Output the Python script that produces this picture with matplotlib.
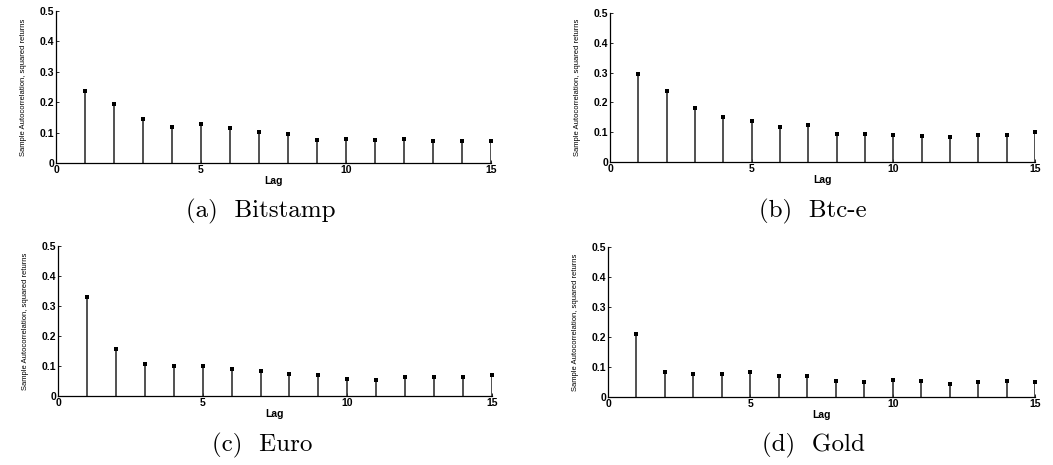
import numpy as np
import matplotlib
matplotlib.use("Agg")
import matplotlib.pyplot as plt

lags = np.arange(1, 16)
bitstamp = [0.236, 0.193, 0.145, 0.118, 0.127, 0.114, 0.101, 0.095, 0.076, 0.078, 0.075, 0.078, 0.073, 0.071, 0.073]
btce = [0.294, 0.239, 0.182, 0.152, 0.139, 0.116, 0.123, 0.094, 0.094, 0.089, 0.086, 0.083, 0.089, 0.092, 0.101]
euro = [0.330, 0.156, 0.106, 0.099, 0.099, 0.089, 0.082, 0.073, 0.071, 0.058, 0.055, 0.062, 0.065, 0.065, 0.069]
gold = [0.210, 0.082, 0.078, 0.076, 0.082, 0.069, 0.069, 0.052, 0.049, 0.057, 0.053, 0.044, 0.049, 0.053, 0.049]

series = [bitstamp, btce, euro, gold]
captions = ['(a)  Bitstamp', '(b)  Btc-e', '(c)  Euro', '(d)  Gold']
yticks = [0, 0.1, 0.2, 0.3, 0.4, 0.5]
ytlabels = ['0', '0.1', '0.2', '0.3', '0.4', '0.5']
xticks = [0, 5, 10, 15]

W, H = 1053, 465
fig = plt.figure(figsize=(W / 100, H / 100), dpi=100)

# axes boxes in pixels: left, right, top, bottom
boxes = [(56, 491, 11, 163), (610, 1035, 13, 162),
         (58, 492, 246, 396), (608, 1035, 247, 397)]
cap_pos = [(261, 211), (813, 211), (262, 445), (813, 445)]

for vals, cap, (l, r, t, b), (cx, cy) in zip(series, captions, boxes, cap_pos):
    ax = fig.add_axes([l / W, 1 - b / H, (r - l) / W, (b - t) / H])
    ml, sl, bl = ax.stem(lags, vals, linefmt='k-', markerfmt='ks', basefmt=' ')
    plt.setp(sl, linewidth=1.2, color='#333333')
    plt.setp(ml, markersize=2.6, markeredgewidth=0)
    ml.set_clip_on(False)
    ax.set_xlim(0, 15)
    ax.set_ylim(0, 0.5)
    ax.set_yticks(yticks)
    ax.set_yticklabels(ytlabels)
    ax.set_xticks(xticks)
    ax.spines['top'].set_visible(False)
    ax.spines['right'].set_visible(False)
    ax.spines['left'].set_linewidth(0.9)
    ax.spines['bottom'].set_linewidth(0.9)
    ax.tick_params(direction='in', length=2.5, width=0.6, pad=1.5)
    for lab in ax.get_xticklabels() + ax.get_yticklabels():
        lab.set_fontsize(7.5)
        lab.set_fontweight('bold')
        lab.set_family('Liberation Sans')
    ax.set_xlabel('Lag', fontsize=7.5, fontweight='bold', family='Liberation Sans', labelpad=1)
    ax.set_ylabel('Sample Autocorrelation, squared returns', fontsize=5.5,
                  family='Liberation Sans', labelpad=9)
    fig.text(cx / W, 1 - cy / H, cap, fontsize=18, family='cmr10',
             ha='center', va='center')

fig.savefig('out.png', dpi=100)
